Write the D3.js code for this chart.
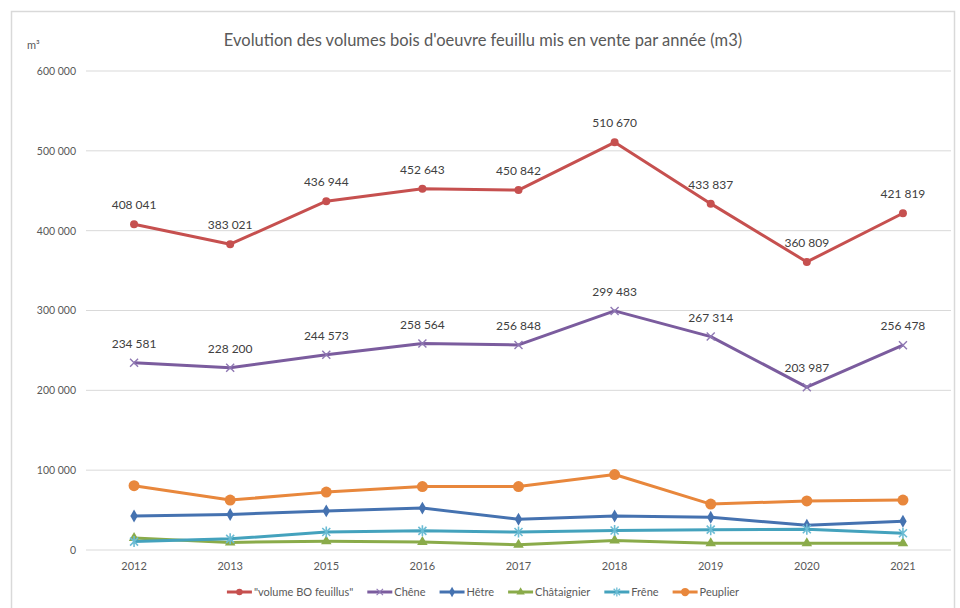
<!doctype html>
<html>
<head>
<meta charset="utf-8">
<title>Evolution des volumes bois d'oeuvre feuillu</title>
<script src="https://d3js.org/d3.v7.min.js"></script>
<style>
  body { margin: 0; background: #fff; }
  svg text { font-family: Lato, "Open Sans", sans-serif; }
</style>
</head>
<body>
<svg id="chart" width="960" height="608"></svg>
<script>
// data
const years = ["2012", "2013", "2015", "2016", "2017", "2018", "2019", "2020", "2021"];
const volumeTotal = [408041, 383021, 436944, 452643, 450842, 510670, 433837, 360809, 421819];
const chene = [234581, 228200, 244573, 258564, 256848, 299483, 267314, 203987, 256478];
const hetre = [42500, 44500, 49000, 52500, 38500, 42500, 41000, 31000, 36000];
const chataignier = [15000, 9500, 11000, 10000, 6500, 12000, 8500, 8500, 8500];
const frene = [10500, 14000, 22500, 24000, 22500, 24500, 25500, 26000, 21000];
const peuplier = [80500, 62500, 72500, 79500, 79500, 94500, 57500, 61500, 62500];
const yTicks = [0, 100000, 200000, 300000, 400000, 500000, 600000];

const seriesNames = ["\"volume BO feuillus\"", "Chêne", "Hêtre", "Châtaignier", "Frêne", "Peuplier"];
const seriesValues = [volumeTotal, chene, hetre, chataignier, frene, peuplier];
const seriesColors = ["#c6504f", "#7b5c9e", "#4572b0", "#8aab4a", "#44a2bd", "#e8873c"];
const markerColors = ["#c6504f", "#8f78b3", "#4572b0", "#8aab4a", "#6cbcd4", "#e8873c"];
const markerKinds = ["circle", "x", "diamond", "triangle", "asterisk", "bigcircle"];
const labelled = [true, true, false, false, false, false];

const svg = d3.select("#chart");
const margin = {left: 86, right: 951, top: 71, bottom: 550};

// outer frame
svg.append("rect")
  .attr("x", 11.5).attr("y", 11.5)
  .attr("width", 943).attr("height", 620)
  .attr("fill", "none")
  .attr("stroke", "#d9d9d9")
  .attr("stroke-width", 1.5);

const x = d3.scaleBand().domain(years).range([margin.left, margin.right]);
const y = d3.scaleLinear().domain([0, 600000]).range([margin.bottom, margin.top]);

const fmt = v => d3.format(",")(v).replace(/,/g, "\u202f");

// gridlines
svg.append("g")
  .selectAll("line")
  .data(yTicks)
  .join("line")
    .attr("x1", margin.left).attr("x2", margin.right)
    .attr("y1", d => y(d)).attr("y2", d => y(d))
    .attr("stroke", "#d9d9d9")
    .attr("stroke-width", 1);

// y axis labels
const yAxis = d3.axisLeft(y).tickValues(yTicks).tickSize(0).tickPadding(10).tickFormat(fmt);
svg.append("g")
  .attr("transform", `translate(${margin.left},0)`)
  .call(yAxis)
  .call(g => g.select(".domain").remove())
  .selectAll("text")
    .attr("fill", "#595959")
    .style("font-size", "10.5px");

// x axis labels
const xAxis = d3.axisBottom(x).tickSize(0).tickPadding(12);
svg.append("g")
  .attr("transform", `translate(0,${margin.bottom})`)
  .call(xAxis)
  .call(g => g.select(".domain").remove())
  .selectAll("text")
    .attr("fill", "#595959")
    .style("font-size", "11px");

// title and unit
svg.append("text")
  .attr("x", 483).attr("y", 46)
  .attr("text-anchor", "middle")
  .attr("fill", "#595959")
  .style("font-size", "16.5px")
  .text("Evolution des volumes bois d'oeuvre feuillu mis en vente par année (m3)");

svg.append("text")
  .attr("x", 27).attr("y", 49)
  .attr("fill", "#595959")
  .style("font-size", "11px")
  .text("m³");

// marker drawing helper
function drawMarker(g, kind, color, size) {
  const s = size || 1;
  if (kind === "circle") {
    g.append("circle").attr("r", 4 * s).attr("fill", color);
  } else if (kind === "bigcircle") {
    g.append("circle").attr("r", 5.5 * s).attr("fill", color);
  } else if (kind === "x") {
    g.append("path").attr("d", "M-4,-4L4,4M-4,4L4,-4")
      .attr("transform", `scale(${s})`)
      .attr("stroke", color).attr("stroke-width", 1.4).attr("fill", "none");
  } else if (kind === "asterisk") {
    g.append("path").attr("d", "M-4,-4L4,4M-4,4L4,-4M0,-5.5L0,5.5")
      .attr("transform", `scale(${s})`)
      .attr("stroke", color).attr("stroke-width", 1.6).attr("fill", "none");
  } else {
    const sym = kind === "diamond" ? d3.symbolDiamond : d3.symbolTriangle;
    g.append("path").attr("d", d3.symbol().type(sym).size(48 * s * s)())
      .attr("fill", color);
  }
}

const line = d3.line()
  .x((d, i) => x(years[i]) + x.bandwidth() / 2)
  .y(d => y(d));

seriesValues.forEach((vals, k) => {
  const g = svg.append("g");
  g.append("path")
    .datum(vals)
    .attr("d", line)
    .attr("fill", "none")
    .attr("stroke", seriesColors[k])
    .attr("stroke-width", 3)
    .attr("stroke-linejoin", "round");

  g.selectAll("g.mk")
    .data(vals)
    .join("g")
      .attr("class", "mk")
      .attr("transform", (d, i) => `translate(${x(years[i]) + x.bandwidth() / 2},${y(d)})`)
      .each(function() { drawMarker(d3.select(this), markerKinds[k], markerColors[k]); });

  if (labelled[k]) {
    g.selectAll("text.lbl")
      .data(vals)
      .join("text")
        .attr("class", "lbl")
        .attr("x", (d, i) => x(years[i]) + x.bandwidth() / 2)
        .attr("y", d => y(d) - 15)
        .attr("text-anchor", "middle")
        .attr("fill", "#404040")
        .style("font-size", "12px")
        .text(d => fmt(d));
  }
});

// legend
const legend = svg.append("g").attr("transform", "translate(0,592)");
let cursor = 0;
const items = [];
seriesNames.forEach((name, k) => {
  const item = legend.append("g");
  item.append("line")
    .attr("x1", 0).attr("x2", 25)
    .attr("stroke", seriesColors[k]).attr("stroke-width", 3);
  const mk = item.append("g").attr("transform", "translate(12.5,0)");
  drawMarker(mk, markerKinds[k], markerColors[k], markerKinds[k] === "bigcircle" ? 0.75 : 0.8);
  const t = item.append("text")
    .attr("x", 27).attr("y", 4)
    .attr("fill", "#595959")
    .style("font-size", "11px")
    .text(name);
  const w = 27 + t.node().getComputedTextLength();
  items.push({item, x: cursor});
  cursor += w + 14;
});
const total = cursor - 14;
const start = 483 - total / 2;
items.forEach(d => d.item.attr("transform", `translate(${start + d.x},0)`));
</script>
</body>
</html>
